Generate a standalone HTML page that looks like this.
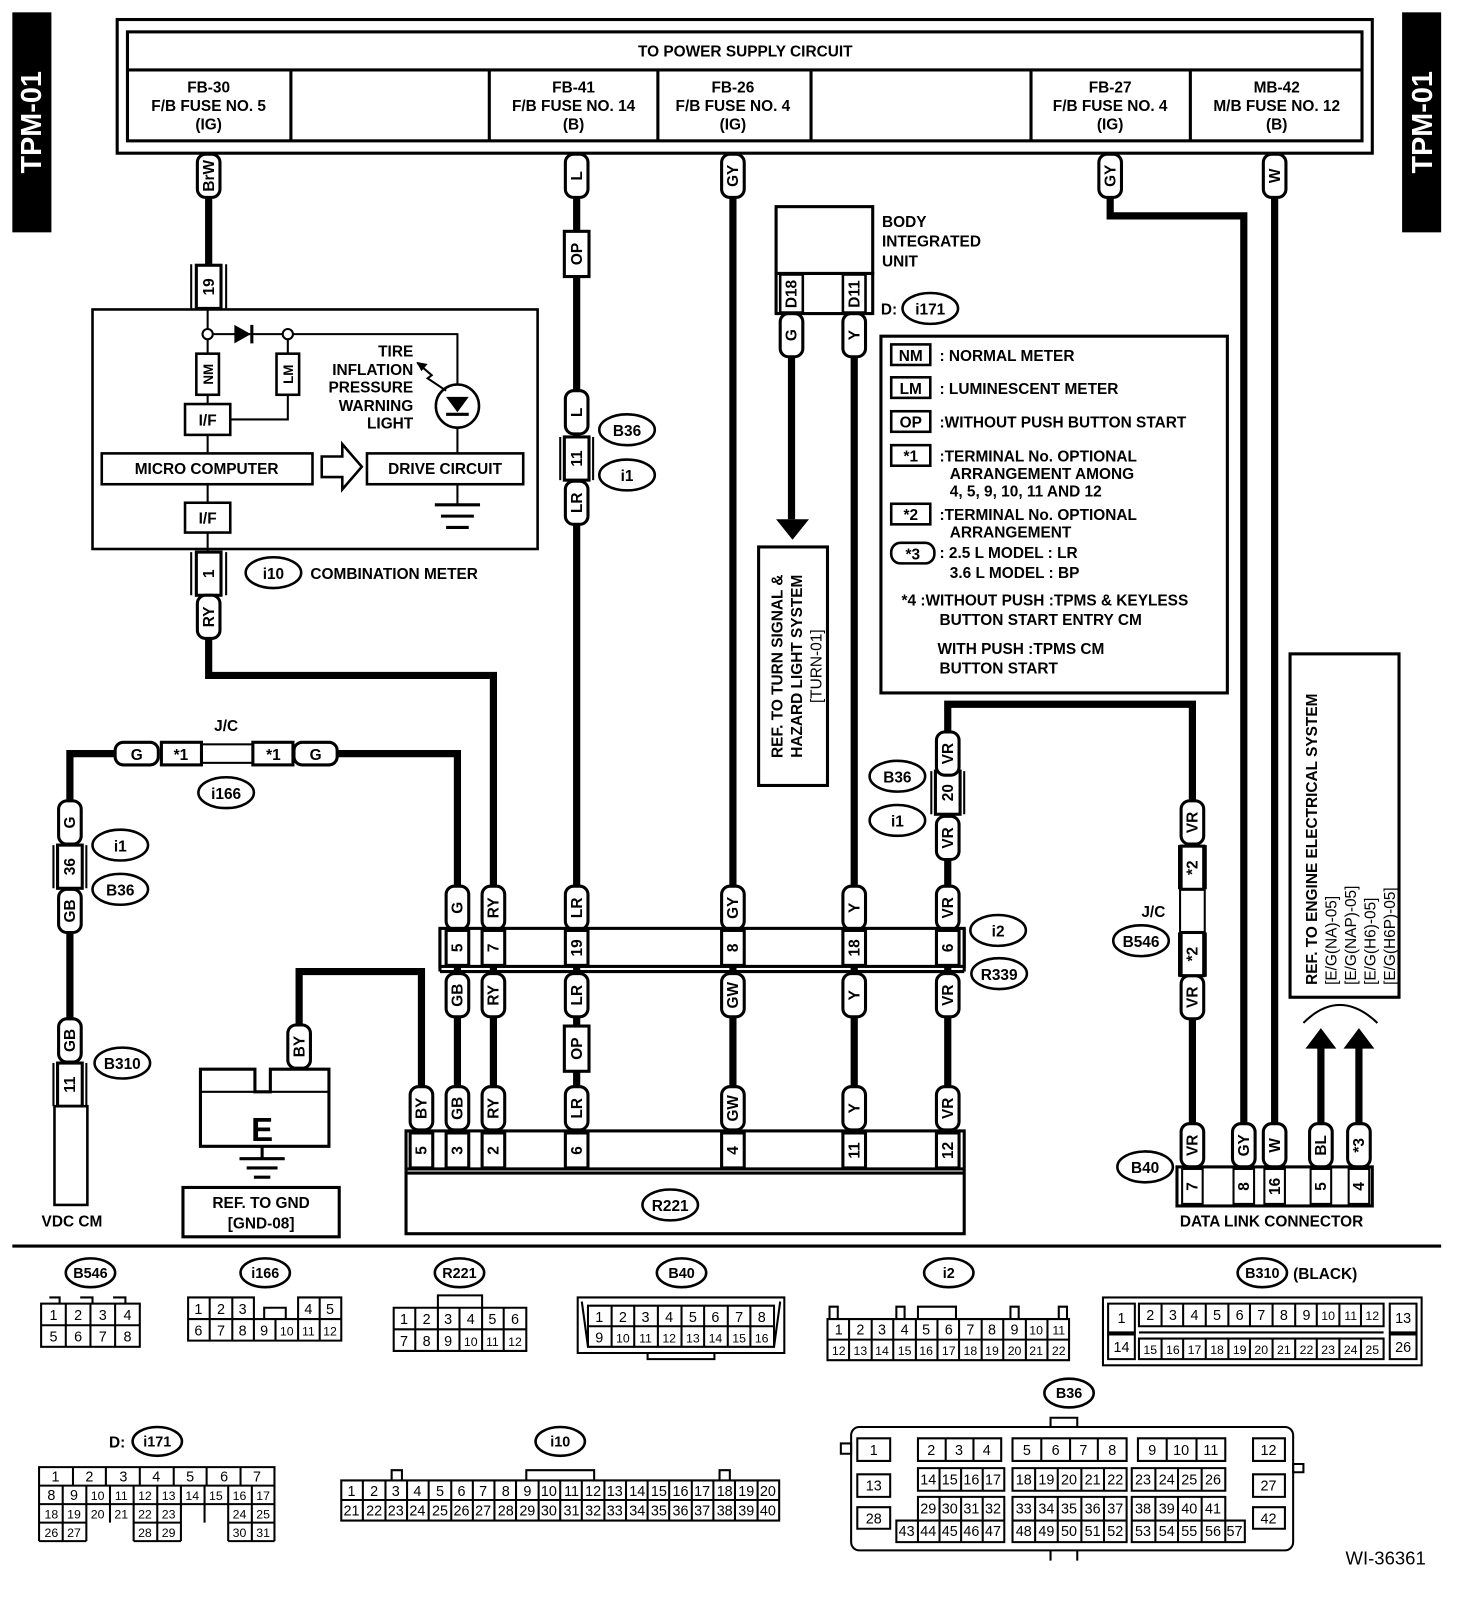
<!DOCTYPE html>
<html><head><meta charset="utf-8"><style>
html,body{margin:0;padding:0;background:#fff;}
svg{display:block;}
text{font-family:"Liberation Sans",sans-serif;font-weight:bold;font-size:15px;fill:#000;}
.n text,text.n{font-weight:normal;font-size:14px;}
.w{fill:none;stroke:#000;stroke-width:7;}
.b{fill:#fff;stroke:#000;stroke-width:3;}
.t{fill:none;stroke:#000;stroke-width:2;}
.bn{fill:none;stroke:#000;stroke-width:3;}
</style></head><body>
<svg width="1472" height="1610" viewBox="0 0 1432 1566" preserveAspectRatio="none" xmlns="http://www.w3.org/2000/svg">
<!-- tabs -->
<rect x="12" y="12" width="38" height="214" fill="#000"/>
<text transform="translate(40,119) rotate(-90)" text-anchor="middle" style="fill:#fff;font-size:28px">TPM-01</text>
<rect x="1364" y="12" width="38" height="214" fill="#000"/>
<text transform="translate(1393,119) rotate(-90)" text-anchor="middle" style="fill:#fff;font-size:28px">TPM-01</text>

<!-- power supply -->
<rect x="114" y="19" width="1221" height="130" class="bn"/>
<rect x="124" y="31" width="1201" height="106" class="bn"/>
<path d="M124 68H1325M283 68V137M476 68V137M640 68V137M789 68V137M1003 68V137M1158 68V137" class="bn"/>
<text x="725" y="55" text-anchor="middle">TO POWER SUPPLY CIRCUIT</text>
<g text-anchor="middle">
<text x="203" y="90">FB-30</text><text x="203" y="108">F/B FUSE NO. 5</text><text x="203" y="126">(IG)</text>
<text x="558" y="90">FB-41</text><text x="558" y="108">F/B FUSE NO. 14</text><text x="558" y="126">(B)</text>
<text x="713" y="90">FB-26</text><text x="713" y="108">F/B FUSE NO. 4</text><text x="713" y="126">(IG)</text>
<text x="1080" y="90">FB-27</text><text x="1080" y="108">F/B FUSE NO. 4</text><text x="1080" y="126">(IG)</text>
<text x="1242" y="90">MB-42</text><text x="1242" y="108">M/B FUSE NO. 12</text><text x="1242" y="126">(B)</text>
</g>

<!-- wires -->
<path class="w" d="M203 150V257"/>
<path class="w" d="M203 579V657H480V1100"/>
<path class="w" d="M561 150V1100"/>
<path class="w" d="M713 150V1100"/>
<path class="w" d="M831 305V1100"/>
<path class="w" d="M770 305V505"/>
<path class="w" d="M1080 150V210H1210V1095"/>
<path class="w" d="M1240 150V1095"/>
<path class="w" d="M922 1100V685H1160V1095"/>
<path class="w" d="M445 1100V733H328"/>
<path class="w" d="M112 733H68V1075"/>
<path class="w" d="M291 1040V945H410V1100"/>
<path class="w" d="M1285 1095V1018M1322 1095V1018"/>
<path d="M1270 1020L1285 1000L1300 1020ZM1307 1020L1322 1000L1337 1020Z" fill="#000"/>
<path d="M1268 995Q1303 960 1340 995" class="t"/>
<path d="M755 505H787L771 525Z" fill="#000"/>

<!-- combination meter -->
<rect x="90" y="301" width="433" height="233" class="t" style="stroke-width:2.5"/>
<path class="t" d="M202 300V344M202 384V393M202 423V441M202 471V489M202 518V537M206 325H276M285 325H445V374M445 416V441M280 330V344M280 384V408H224M445 471V491"/>
<circle cx="202" cy="325" r="5" class="b" style="stroke-width:2"/>
<circle cx="280" cy="325" r="5" class="b" style="stroke-width:2"/>
<path d="M228 316L244 325L228 334Z" fill="#000"/><path d="M245 316V334" class="bn"/>
<circle cx="445" cy="395" r="21" class="b" style="stroke-width:2.5"/>
<path d="M434 386H456L445 401Z" fill="#000"/><path d="M434 403H456" class="bn"/>
<path d="M406 353L420 365L416 368L434 380" class="t"/><path d="M405 352L416 354L410 361Z" fill="#000"/>
<rect x="191" y="344" width="22" height="40" class="b" style="stroke-width:2.5"/>
<text transform="translate(202,364) rotate(-90)" text-anchor="middle" dy="5" style="font-size:13px">NM</text>
<rect x="269" y="344" width="22" height="40" class="b" style="stroke-width:2.5"/>
<text transform="translate(280,364) rotate(-90)" text-anchor="middle" dy="5" style="font-size:13px">LM</text>
<rect x="180" y="393" width="44" height="30" class="b" style="stroke-width:2.5"/><text x="202" y="414" text-anchor="middle">I/F</text>
<rect x="180" y="489" width="44" height="29" class="b" style="stroke-width:2.5"/><text x="202" y="509" text-anchor="middle">I/F</text>
<rect x="99" y="441" width="205" height="30" class="b" style="stroke-width:2.5"/><text x="201" y="461" text-anchor="middle">MICRO COMPUTER</text>
<rect x="357" y="441" width="152" height="30" class="b" style="stroke-width:2.5"/><text x="433" y="461" text-anchor="middle">DRIVE CIRCUIT</text>
<path d="M313 444H333V432L352 454L333 476V464H313Z" class="b" style="stroke-width:2.5"/>
<path d="M423 491H467M429 502H461M434 513H456" class="bn"/>
<g text-anchor="end"><text x="402" y="347">TIRE</text><text x="402" y="365">INFLATION</text><text x="402" y="382">PRESSURE</text><text x="402" y="400">WARNING</text><text x="402" y="417">LIGHT</text></g>
<ellipse cx="266" cy="557" rx="27" ry="15" class="b" style="stroke-width:2.5"/><text x="266" y="563" text-anchor="middle">i10</text>
<text x="302" y="563">COMBINATION METER</text>

<!-- inline connectors -->
<g class="inl">
<path class="t" d="M186 257V300M220 257V300M186 537V579M220 537V579M545 425V467M577 425V467M52 822V864M84 822V864M52 1034V1076M84 1034V1076M906 750V792M938 750V792"/>
<rect x="191" y="258" width="24" height="42" class="b"/><text transform="translate(203,279) rotate(-90)" text-anchor="middle" dy="5">19</text>
<rect x="191" y="537" width="24" height="42" class="b"/><text transform="translate(203,558) rotate(-90)" text-anchor="middle" dy="5">1</text>
<rect x="549" y="425" width="24" height="42" class="b"/><text transform="translate(561,446) rotate(-90)" text-anchor="middle" dy="5">11</text>
<rect x="56" y="822" width="24" height="42" class="b"/><text transform="translate(68,843) rotate(-90)" text-anchor="middle" dy="5">36</text>
<rect x="56" y="1034" width="24" height="42" class="b"/><text transform="translate(68,1055) rotate(-90)" text-anchor="middle" dy="5">11</text>
<rect x="910" y="750" width="24" height="42" class="b"/><text transform="translate(922,771) rotate(-90)" text-anchor="middle" dy="5">20</text>
<rect x="549" y="998" width="24" height="44" class="b"/><text transform="translate(561,1020) rotate(-90)" text-anchor="middle" dy="5">OP</text>
<rect x="549" y="225" width="24" height="44" class="b"/><text transform="translate(561,247) rotate(-90)" text-anchor="middle" dy="5">OP</text>
</g>
<rect x="53" y="1076" width="32" height="96" class="b" style="stroke-width:2.5"/>
<text x="70" y="1193" text-anchor="middle">VDC CM</text>

<!-- pills -->
<g>
<rect x="192" y="150" width="22" height="42" rx="8" class="b"/><text transform="translate(203,171) rotate(-90)" text-anchor="middle" dy="5">BrW</text>
<rect x="192" y="579" width="22" height="42" rx="8" class="b"/><text transform="translate(203,600) rotate(-90)" text-anchor="middle" dy="5">RY</text>
<rect x="550" y="150" width="22" height="42" rx="8" class="b"/><text transform="translate(561,171) rotate(-90)" text-anchor="middle" dy="5">L</text>
<rect x="702" y="150" width="22" height="42" rx="8" class="b"/><text transform="translate(713,171) rotate(-90)" text-anchor="middle" dy="5">GY</text>
<rect x="1069" y="150" width="22" height="42" rx="8" class="b"/><text transform="translate(1080,171) rotate(-90)" text-anchor="middle" dy="5">GY</text>
<rect x="1229" y="150" width="22" height="42" rx="8" class="b"/><text transform="translate(1240,171) rotate(-90)" text-anchor="middle" dy="5">W</text>
<rect x="550" y="380" width="22" height="42" rx="8" class="b"/><text transform="translate(561,401) rotate(-90)" text-anchor="middle" dy="5">L</text>
<rect x="550" y="468" width="22" height="42" rx="8" class="b"/><text transform="translate(561,489) rotate(-90)" text-anchor="middle" dy="5">LR</text>
<rect x="759" y="305" width="22" height="42" rx="8" class="b"/><text transform="translate(770,326) rotate(-90)" text-anchor="middle" dy="5">G</text>
<rect x="820" y="305" width="22" height="42" rx="8" class="b"/><text transform="translate(831,326) rotate(-90)" text-anchor="middle" dy="5">Y</text>
<rect x="57" y="779" width="22" height="42" rx="8" class="b"/><text transform="translate(68,800) rotate(-90)" text-anchor="middle" dy="5">G</text>
<rect x="57" y="865" width="22" height="42" rx="8" class="b"/><text transform="translate(68,886) rotate(-90)" text-anchor="middle" dy="5">GB</text>
<rect x="57" y="991" width="22" height="42" rx="8" class="b"/><text transform="translate(68,1012) rotate(-90)" text-anchor="middle" dy="5">GB</text>
<rect x="911" y="712" width="22" height="42" rx="8" class="b"/><text transform="translate(922,733) rotate(-90)" text-anchor="middle" dy="5">VR</text>
<rect x="911" y="794" width="22" height="42" rx="8" class="b"/><text transform="translate(922,815) rotate(-90)" text-anchor="middle" dy="5">VR</text>
<rect x="280" y="997" width="22" height="42" rx="8" class="b"/><text transform="translate(291,1018) rotate(-90)" text-anchor="middle" dy="5">BY</text>
<!-- row 1 -->
<rect x="434" y="862" width="22" height="42" rx="8" class="b"/><text transform="translate(445,883) rotate(-90)" text-anchor="middle" dy="5">G</text>
<rect x="469" y="862" width="22" height="42" rx="8" class="b"/><text transform="translate(480,883) rotate(-90)" text-anchor="middle" dy="5">RY</text>
<rect x="550" y="862" width="22" height="42" rx="8" class="b"/><text transform="translate(561,883) rotate(-90)" text-anchor="middle" dy="5">LR</text>
<rect x="702" y="862" width="22" height="42" rx="8" class="b"/><text transform="translate(713,883) rotate(-90)" text-anchor="middle" dy="5">GY</text>
<rect x="820" y="862" width="22" height="42" rx="8" class="b"/><text transform="translate(831,883) rotate(-90)" text-anchor="middle" dy="5">Y</text>
<rect x="911" y="862" width="22" height="42" rx="8" class="b"/><text transform="translate(922,883) rotate(-90)" text-anchor="middle" dy="5">VR</text>
<!-- row 2 -->
<rect x="434" y="947" width="22" height="42" rx="8" class="b"/><text transform="translate(445,968) rotate(-90)" text-anchor="middle" dy="5">GB</text>
<rect x="469" y="947" width="22" height="42" rx="8" class="b"/><text transform="translate(480,968) rotate(-90)" text-anchor="middle" dy="5">RY</text>
<rect x="550" y="947" width="22" height="42" rx="8" class="b"/><text transform="translate(561,968) rotate(-90)" text-anchor="middle" dy="5">LR</text>
<rect x="702" y="947" width="22" height="42" rx="8" class="b"/><text transform="translate(713,968) rotate(-90)" text-anchor="middle" dy="5">GW</text>
<rect x="820" y="947" width="22" height="42" rx="8" class="b"/><text transform="translate(831,968) rotate(-90)" text-anchor="middle" dy="5">Y</text>
<rect x="911" y="947" width="22" height="42" rx="8" class="b"/><text transform="translate(922,968) rotate(-90)" text-anchor="middle" dy="5">VR</text>
<!-- row 3 -->
<rect x="399" y="1057" width="22" height="42" rx="8" class="b"/><text transform="translate(410,1078) rotate(-90)" text-anchor="middle" dy="5">BY</text>
<rect x="434" y="1057" width="22" height="42" rx="8" class="b"/><text transform="translate(445,1078) rotate(-90)" text-anchor="middle" dy="5">GB</text>
<rect x="469" y="1057" width="22" height="42" rx="8" class="b"/><text transform="translate(480,1078) rotate(-90)" text-anchor="middle" dy="5">RY</text>
<rect x="550" y="1057" width="22" height="42" rx="8" class="b"/><text transform="translate(561,1078) rotate(-90)" text-anchor="middle" dy="5">LR</text>
<rect x="702" y="1057" width="22" height="42" rx="8" class="b"/><text transform="translate(713,1078) rotate(-90)" text-anchor="middle" dy="5">GW</text>
<rect x="820" y="1057" width="22" height="42" rx="8" class="b"/><text transform="translate(831,1078) rotate(-90)" text-anchor="middle" dy="5">Y</text>
<rect x="911" y="1057" width="22" height="42" rx="8" class="b"/><text transform="translate(922,1078) rotate(-90)" text-anchor="middle" dy="5">VR</text>
<!-- right -->
<rect x="1149" y="779" width="22" height="42" rx="8" class="b"/><text transform="translate(1160,800) rotate(-90)" text-anchor="middle" dy="5">VR</text>
<rect x="1149" y="949" width="22" height="42" rx="8" class="b"/><text transform="translate(1160,970) rotate(-90)" text-anchor="middle" dy="5">VR</text>
<rect x="1149" y="1093" width="22" height="42" rx="8" class="b"/><text transform="translate(1160,1114) rotate(-90)" text-anchor="middle" dy="5">VR</text>
<rect x="1199" y="1093" width="22" height="42" rx="8" class="b"/><text transform="translate(1210,1114) rotate(-90)" text-anchor="middle" dy="5">GY</text>
<rect x="1229" y="1093" width="22" height="42" rx="8" class="b"/><text transform="translate(1240,1114) rotate(-90)" text-anchor="middle" dy="5">W</text>
<rect x="1274" y="1093" width="22" height="42" rx="8" class="b"/><text transform="translate(1285,1114) rotate(-90)" text-anchor="middle" dy="5">BL</text>
<rect x="1311" y="1093" width="22" height="42" rx="8" class="b"/><text transform="translate(1322,1114) rotate(-90)" text-anchor="middle" dy="5">*3</text>
</g>

<!-- J/C i166 -->
<text x="220" y="711" text-anchor="middle">J/C</text>
<rect x="196" y="724" width="50" height="18" class="b" style="stroke-width:2"/>
<rect x="112" y="722" width="42" height="22" rx="8" class="b"/><text x="133" y="739" text-anchor="middle">G</text>
<rect x="157" y="722" width="39" height="22" class="b"/><text x="176" y="739" text-anchor="middle">*1</text>
<rect x="246" y="722" width="39" height="22" class="b"/><text x="266" y="739" text-anchor="middle">*1</text>
<rect x="286" y="722" width="42" height="22" rx="8" class="b"/><text x="307" y="739" text-anchor="middle">G</text>
<ellipse cx="220" cy="771" rx="27" ry="15" class="b" style="stroke-width:2.5"/><text x="220" y="777" text-anchor="middle">i166</text>

<!-- ovals -->
<g>
<ellipse cx="117" cy="822" rx="27" ry="15" class="b" style="stroke-width:2.5"/><text x="117" y="828" text-anchor="middle">i1</text>
<ellipse cx="117" cy="865" rx="27" ry="15" class="b" style="stroke-width:2.5"/><text x="117" y="871" text-anchor="middle">B36</text>
<ellipse cx="119" cy="1034" rx="27" ry="15" class="b" style="stroke-width:2.5"/><text x="119" y="1040" text-anchor="middle">B310</text>
<ellipse cx="610" cy="418" rx="27" ry="15" class="b" style="stroke-width:2.5"/><text x="610" y="424" text-anchor="middle">B36</text>
<ellipse cx="610" cy="462" rx="27" ry="15" class="b" style="stroke-width:2.5"/><text x="610" y="468" text-anchor="middle">i1</text>
<ellipse cx="873" cy="755" rx="27" ry="15" class="b" style="stroke-width:2.5"/><text x="873" y="761" text-anchor="middle">B36</text>
<ellipse cx="873" cy="798" rx="27" ry="15" class="b" style="stroke-width:2.5"/><text x="873" y="804" text-anchor="middle">i1</text>
<ellipse cx="971" cy="905" rx="27" ry="15" class="b" style="stroke-width:2.5"/><text x="971" y="911" text-anchor="middle">i2</text>
<ellipse cx="972" cy="947" rx="27" ry="15" class="b" style="stroke-width:2.5"/><text x="972" y="953" text-anchor="middle">R339</text>
<ellipse cx="652" cy="1172" rx="27" ry="15" class="b" style="stroke-width:2.5"/><text x="652" y="1178" text-anchor="middle">R221</text>
<text x="694" y="1179" style="font-size:16px">*4</text>
<ellipse cx="1110" cy="915" rx="27" ry="15" class="b" style="stroke-width:2.5"/><text x="1110" y="921" text-anchor="middle">B546</text>
<text x="1122" y="892" text-anchor="middle">J/C</text>
<ellipse cx="1114" cy="1135" rx="27" ry="15" class="b" style="stroke-width:2.5"/><text x="1114" y="1141" text-anchor="middle">B40</text>
<ellipse cx="905" cy="300" rx="27" ry="15" class="b" style="stroke-width:2.5"/><text x="905" y="306" text-anchor="middle">i171</text>
<text x="857" y="306">D:</text>
</g>

<!-- right J/C B546 -->
<path class="t" d="M1147 822V865M1173 822V865M1147 907V950M1173 907V950"/>
<rect x="1148" y="865" width="24" height="42" class="b" style="stroke-width:2"/>
<rect x="1149" y="823" width="22" height="42" class="b"/><text transform="translate(1160,844) rotate(-90)" text-anchor="middle" dy="5">*2</text>
<rect x="1149" y="907" width="22" height="42" class="b"/><text transform="translate(1160,928) rotate(-90)" text-anchor="middle" dy="5">*2</text>

<!-- i2 row -->
<rect x="428" y="903" width="510" height="37" class="b"/>
<path class="bn" d="M428 945H938M428 903V945M938 903V945"/>
<g>
<rect x="434" y="905" width="22" height="34" class="b"/><text transform="translate(445,922) rotate(-90)" text-anchor="middle" dy="5">5</text>
<rect x="469" y="905" width="22" height="34" class="b"/><text transform="translate(480,922) rotate(-90)" text-anchor="middle" dy="5">7</text>
<rect x="550" y="905" width="22" height="34" class="b"/><text transform="translate(561,922) rotate(-90)" text-anchor="middle" dy="5">19</text>
<rect x="702" y="905" width="22" height="34" class="b"/><text transform="translate(713,922) rotate(-90)" text-anchor="middle" dy="5">8</text>
<rect x="820" y="905" width="22" height="34" class="b"/><text transform="translate(831,922) rotate(-90)" text-anchor="middle" dy="5">18</text>
<rect x="911" y="905" width="22" height="34" class="b"/><text transform="translate(922,922) rotate(-90)" text-anchor="middle" dy="5">6</text>
</g>

<!-- R221 -->
<rect x="395" y="1100" width="543" height="100" class="b"/>
<path class="bn" d="M395 1137H938M395 1141H938"/>
<g>
<rect x="399" y="1102" width="22" height="34" class="b"/><text transform="translate(410,1119) rotate(-90)" text-anchor="middle" dy="5">5</text>
<rect x="434" y="1102" width="22" height="34" class="b"/><text transform="translate(445,1119) rotate(-90)" text-anchor="middle" dy="5">3</text>
<rect x="469" y="1102" width="22" height="34" class="b"/><text transform="translate(480,1119) rotate(-90)" text-anchor="middle" dy="5">2</text>
<rect x="550" y="1102" width="22" height="34" class="b"/><text transform="translate(561,1119) rotate(-90)" text-anchor="middle" dy="5">6</text>
<rect x="702" y="1102" width="22" height="34" class="b"/><text transform="translate(713,1119) rotate(-90)" text-anchor="middle" dy="5">4</text>
<rect x="820" y="1102" width="22" height="34" class="b"/><text transform="translate(831,1119) rotate(-90)" text-anchor="middle" dy="5">11</text>
<rect x="911" y="1102" width="22" height="34" class="b"/><text transform="translate(922,1119) rotate(-90)" text-anchor="middle" dy="5">12</text>
</g>
<ellipse cx="652" cy="1172" rx="27" ry="15" class="b" style="stroke-width:2.5"/><text x="652" y="1178" text-anchor="middle">R221</text>

<!-- ground E -->
<path d="M195 1040H248V1062H263V1040H320V1115H195Z" class="b"/>
<path d="M195 1062H320" class="t"/>
<text x="255" y="1110" text-anchor="middle" style="font-size:32px">E</text>
<path d="M255 1115V1126M233 1127H277M240 1136H270M247 1145H263" class="bn"/>
<rect x="178" y="1155" width="152" height="48" class="b"/>
<text x="254" y="1175" text-anchor="middle">REF. TO GND</text><text x="254" y="1195" text-anchor="middle">[GND-08]</text>

<!-- BIU -->
<rect x="755" y="201" width="94" height="65" class="b"/>
<rect x="755" y="266" width="94" height="39" class="b"/>
<rect x="759" y="267" width="22" height="37" class="b" style="stroke-width:2.5"/><text transform="translate(770,286) rotate(-90)" text-anchor="middle" dy="5">D18</text>
<rect x="820" y="267" width="22" height="37" class="b" style="stroke-width:2.5"/><text transform="translate(831,286) rotate(-90)" text-anchor="middle" dy="5">D11</text>
<text x="858" y="221">BODY</text><text x="858" y="240">INTEGRATED</text><text x="858" y="259">UNIT</text>
<rect x="738" y="532" width="67" height="232" class="b"/>
<g text-anchor="middle"><text transform="translate(756,648) rotate(-90)" dy="5">REF. TO TURN SIGNAL &amp;</text><text transform="translate(775,648) rotate(-90)" dy="5">HAZARD LIGHT SYSTEM</text><text transform="translate(794,648) rotate(-90)" dy="5" style="font-weight:normal">[TURN-01]</text></g>

<!-- legend -->
<rect x="857" y="327" width="337" height="347" class="b"/>
<rect x="867" y="335" width="38" height="20" class="b" style="stroke-width:2.5"/><text x="886" y="351" text-anchor="middle">NM</text><text x="914" y="351">: NORMAL METER</text>
<rect x="867" y="367" width="38" height="20" class="b" style="stroke-width:2.5"/><text x="886" y="383" text-anchor="middle">LM</text><text x="914" y="383">: LUMINESCENT METER</text>
<rect x="867" y="400" width="38" height="20" class="b" style="stroke-width:2.5"/><text x="886" y="416" text-anchor="middle">OP</text><text x="914" y="416">:WITHOUT PUSH BUTTON START</text>
<rect x="867" y="433" width="38" height="20" class="b" style="stroke-width:2.5"/><text x="886" y="449" text-anchor="middle">*1</text><text x="914" y="449">:TERMINAL No. OPTIONAL</text>
<text x="924" y="466">ARRANGEMENT AMONG</text><text x="924" y="483">4, 5, 9, 10, 11 AND 12</text>
<rect x="867" y="490" width="38" height="20" class="b" style="stroke-width:2.5"/><text x="886" y="506" text-anchor="middle">*2</text><text x="914" y="506">:TERMINAL No. OPTIONAL</text>
<text x="924" y="523">ARRANGEMENT</text>
<rect x="867" y="528" width="42" height="20" rx="9" class="b" style="stroke-width:2.5"/><text x="888" y="544" text-anchor="middle">*3</text>
<text x="914" y="543">: 2.5 L MODEL  : LR</text><text x="924" y="562">3.6 L MODEL  : BP</text>
<text x="877" y="589">*4 :WITHOUT PUSH :TPMS &amp; KEYLESS</text>
<text x="914" y="608">BUTTON START   ENTRY CM</text>
<text x="912" y="636">WITH PUSH          :TPMS CM</text>
<text x="914" y="655">BUTTON START</text>

<!-- engine ref -->
<rect x="1255" y="636" width="106" height="334" class="b"/>
<g><text transform="translate(1276,958) rotate(-90)" dy="5">REF. TO ENGINE ELECTRICAL SYSTEM</text>
<text transform="translate(1295,958) rotate(-90)" dy="5" style="font-weight:normal">[E/G(NA)-05]</text>
<text transform="translate(1314,958) rotate(-90)" dy="5" style="font-weight:normal">[E/G(NAP)-05]</text>
<text transform="translate(1333,958) rotate(-90)" dy="5" style="font-weight:normal">[E/G(H6)-05]</text>
<text transform="translate(1352,958) rotate(-90)" dy="5" style="font-weight:normal">[E/G(H6P)-05]</text></g>

<!-- B40 data link -->
<rect x="1145" y="1135" width="190" height="38" class="b"/>
<g>
<rect x="1150" y="1137" width="20" height="34" class="b" style="stroke-width:2"/><text transform="translate(1160,1154) rotate(-90)" text-anchor="middle" dy="5">7</text>
<rect x="1200" y="1137" width="20" height="34" class="b" style="stroke-width:2"/><text transform="translate(1210,1154) rotate(-90)" text-anchor="middle" dy="5">8</text>
<rect x="1230" y="1137" width="20" height="34" class="b" style="stroke-width:2"/><text transform="translate(1240,1154) rotate(-90)" text-anchor="middle" dy="5">16</text>
<rect x="1275" y="1137" width="20" height="34" class="b" style="stroke-width:2"/><text transform="translate(1285,1154) rotate(-90)" text-anchor="middle" dy="5">5</text>
<rect x="1312" y="1137" width="20" height="34" class="b" style="stroke-width:2"/><text transform="translate(1322,1154) rotate(-90)" text-anchor="middle" dy="5">4</text>
</g>
<text x="1237" y="1193" text-anchor="middle">DATA LINK CONNECTOR</text>

<path d="M12 1212H1402" class="bn"/>

<!-- bottom connectors -->
<g class="n">
<ellipse cx="88" cy="1238" rx="24" ry="14" class="b" style="stroke-width:2.5"/><text x="88" y="1243" text-anchor="middle" style="font-weight:bold">B546</text>
<rect x="40" y="1268" width="96" height="42" class="b" style="stroke-width:2"/>
<path class="t" d="M40 1289H136M64 1268V1310M88 1268V1310M112 1268V1310M48 1262h10v6M78 1262h12v6M110 1262h12v6"/>
<text x="52" y="1284" text-anchor="middle">1</text><text x="76" y="1284" text-anchor="middle">2</text><text x="100" y="1284" text-anchor="middle">3</text><text x="124" y="1284" text-anchor="middle">4</text>
<text x="52" y="1305" text-anchor="middle">5</text><text x="76" y="1305" text-anchor="middle">6</text><text x="100" y="1305" text-anchor="middle">7</text><text x="124" y="1305" text-anchor="middle">8</text>

<ellipse cx="258" cy="1238" rx="24" ry="14" class="b" style="stroke-width:2.5"/><text x="258" y="1243" text-anchor="middle" style="font-weight:bold">i166</text>
<path class="t" d="M183 1262H247V1283H183ZM290 1262H332V1283H290ZM183 1283H332V1304H183ZM204 1262V1304M226 1262V1304M247 1283V1304M268 1283V1304M311 1262V1304M290 1283V1304M257 1283V1272H278V1283"/>
<text x="193" y="1278" text-anchor="middle">1</text><text x="215" y="1278" text-anchor="middle">2</text><text x="236" y="1278" text-anchor="middle">3</text><text x="300" y="1278" text-anchor="middle">4</text><text x="321" y="1278" text-anchor="middle">5</text>
<text x="193" y="1299" text-anchor="middle">6</text><text x="215" y="1299" text-anchor="middle">7</text><text x="236" y="1299" text-anchor="middle">8</text><text x="257" y="1299" text-anchor="middle">9</text><text x="279" y="1299" text-anchor="middle" style="font-size:12px">10</text><text x="300" y="1299" text-anchor="middle" style="font-size:12px">11</text><text x="321" y="1299" text-anchor="middle" style="font-size:12px">12</text>

<ellipse cx="447" cy="1238" rx="24" ry="14" class="b" style="stroke-width:2.5"/><text x="447" y="1243" text-anchor="middle" style="font-weight:bold">R221</text>
<path class="t" d="M383 1272H512V1314H383ZM383 1293H512M404 1272V1314M426 1272V1314M447 1272V1314M469 1272V1314M490 1272V1314M426 1272V1260H469V1272"/>
<text x="393" y="1288" text-anchor="middle">1</text><text x="415" y="1288" text-anchor="middle">2</text><text x="436" y="1288" text-anchor="middle">3</text><text x="458" y="1288" text-anchor="middle">4</text><text x="479" y="1288" text-anchor="middle">5</text><text x="501" y="1288" text-anchor="middle">6</text>
<text x="393" y="1309" text-anchor="middle">7</text><text x="415" y="1309" text-anchor="middle">8</text><text x="436" y="1309" text-anchor="middle">9</text><text x="458" y="1309" text-anchor="middle" style="font-size:12px">10</text><text x="479" y="1309" text-anchor="middle" style="font-size:12px">11</text><text x="501" y="1309" text-anchor="middle" style="font-size:12px">12</text>

<ellipse cx="663" cy="1238" rx="24" ry="14" class="b" style="stroke-width:2.5"/><text x="663" y="1243" text-anchor="middle" style="font-weight:bold">B40</text>
<path class="t" d="M562 1262H763V1316H562ZM566 1266L572 1310M759 1266L753 1310M630 1316V1322H695V1316M572 1270H753V1310H572ZM572 1290H753M595 1270V1310M617 1270V1310M640 1270V1310M663 1270V1310M685 1270V1310M708 1270V1310M730 1270V1310"/>
<text x="583" y="1286" text-anchor="middle">1</text><text x="606" y="1286" text-anchor="middle">2</text><text x="628" y="1286" text-anchor="middle">3</text><text x="651" y="1286" text-anchor="middle">4</text><text x="674" y="1286" text-anchor="middle">5</text><text x="696" y="1286" text-anchor="middle">6</text><text x="719" y="1286" text-anchor="middle">7</text><text x="741" y="1286" text-anchor="middle">8</text>
<text x="583" y="1306" text-anchor="middle">9</text><text x="606" y="1306" text-anchor="middle" style="font-size:12px">10</text><text x="628" y="1306" text-anchor="middle" style="font-size:12px">11</text><text x="651" y="1306" text-anchor="middle" style="font-size:12px">12</text><text x="674" y="1306" text-anchor="middle" style="font-size:12px">13</text><text x="696" y="1306" text-anchor="middle" style="font-size:12px">14</text><text x="719" y="1306" text-anchor="middle" style="font-size:12px">15</text><text x="741" y="1306" text-anchor="middle" style="font-size:12px">16</text>

<ellipse cx="923" cy="1238" rx="24" ry="14" class="b" style="stroke-width:2.5"/><text x="923" y="1243" text-anchor="middle" style="font-weight:bold">i2</text>
<path class="t" d="M805 1283H1040V1323H805ZM805 1303H1040M826 1283V1323M848 1283V1323M869 1283V1323M891 1283V1323M912 1283V1323M933 1283V1323M955 1283V1323M976 1283V1323M998 1283V1323M1019 1283V1323M807 1283V1271H815V1283M872 1283V1271H880V1283M893 1283V1271H930V1283M983 1283V1271H991V1283M1030 1283V1271H1038V1283"/>
<g style="font-size:13px" text-anchor="middle">
<text x="816" y="1298">1</text><text x="837" y="1298">2</text><text x="858" y="1298">3</text><text x="880" y="1298">4</text><text x="901" y="1298">5</text><text x="923" y="1298">6</text><text x="944" y="1298">7</text><text x="965" y="1298">8</text><text x="987" y="1298">9</text><text x="1008" y="1298" style="font-size:12px">10</text><text x="1030" y="1298" style="font-size:12px">11</text>
<text x="816" y="1318" style="font-size:12px">12</text><text x="837" y="1318" style="font-size:12px">13</text><text x="858" y="1318" style="font-size:12px">14</text><text x="880" y="1318" style="font-size:12px">15</text><text x="901" y="1318" style="font-size:12px">16</text><text x="923" y="1318" style="font-size:12px">17</text><text x="944" y="1318" style="font-size:12px">18</text><text x="965" y="1318" style="font-size:12px">19</text><text x="987" y="1318" style="font-size:12px">20</text><text x="1008" y="1318" style="font-size:12px">21</text><text x="1030" y="1318" style="font-size:12px">22</text>
</g>

<ellipse cx="1228" cy="1238" rx="24" ry="14" class="b" style="stroke-width:2.5"/><text x="1228" y="1243" text-anchor="middle" style="font-weight:bold">B310</text>
<text x="1258" y="1244" style="font-weight:bold;font-size:15px">(BLACK)</text>
<rect x="1073" y="1262" width="310" height="66" class="b" style="stroke-width:2"/>
<path class="t" d="M1078 1268H1104V1296H1078ZM1078 1298H1104V1322H1078ZM1352 1268H1378V1296H1352ZM1352 1298H1378V1322H1352ZM1108 1268H1346V1290H1108ZM1108 1302H1346V1322H1108ZM1130 1268V1290M1151 1268V1290M1173 1268V1290M1195 1268V1290M1216 1268V1290M1238 1268V1290M1260 1268V1290M1281 1268V1290M1303 1268V1290M1324 1268V1290M1130 1302V1322M1151 1302V1322M1173 1302V1322M1195 1302V1322M1216 1302V1322M1238 1302V1322M1260 1302V1322M1281 1302V1322M1303 1302V1322M1324 1302V1322M1108 1296H1346"/>
<g style="font-size:13px" text-anchor="middle">
<text x="1091" y="1287">1</text><text x="1091" y="1315">14</text><text x="1365" y="1287">13</text><text x="1365" y="1315">26</text>
<text x="1119" y="1284">2</text><text x="1141" y="1284">3</text><text x="1162" y="1284">4</text><text x="1184" y="1284">5</text><text x="1206" y="1284">6</text><text x="1227" y="1284">7</text><text x="1249" y="1284">8</text><text x="1271" y="1284">9</text><text x="1292" y="1284" style="font-size:12px">10</text><text x="1314" y="1284" style="font-size:12px">11</text><text x="1335" y="1284" style="font-size:12px">12</text>
<text x="1119" y="1317" style="font-size:12px">15</text><text x="1141" y="1317" style="font-size:12px">16</text><text x="1162" y="1317" style="font-size:12px">17</text><text x="1184" y="1317" style="font-size:12px">18</text><text x="1206" y="1317" style="font-size:12px">19</text><text x="1227" y="1317" style="font-size:12px">20</text><text x="1249" y="1317" style="font-size:12px">21</text><text x="1271" y="1317" style="font-size:12px">22</text><text x="1292" y="1317" style="font-size:12px">23</text><text x="1314" y="1317" style="font-size:12px">24</text><text x="1335" y="1317" style="font-size:12px">25</text>
</g>

<!-- D:i171 -->
<text x="106" y="1408" style="font-weight:bold;font-size:15px">D:</text>
<ellipse cx="153" cy="1402" rx="24" ry="14" class="b" style="stroke-width:2.5"/><text x="153" y="1407" text-anchor="middle" style="font-weight:bold">i171</text>
<path class="t" d="M38 1427H267V1463H38ZM38 1445H267M71 1427V1445M103 1427V1445M136 1427V1445M169 1427V1445M201 1427V1445M234 1427V1445M61 1445V1499M84 1445V1499M107 1445V1481M130 1445V1499M153 1445V1499M176 1445V1499M199 1445V1481M222 1445V1499M245 1445V1499M267 1463V1499M38 1463V1499M38 1481H84M130 1481H176M222 1481H267M38 1499H84M130 1499H176M222 1499H267M130 1463H176"/>
<g style="font-size:13px" text-anchor="middle">
<text x="54" y="1441">1</text><text x="87" y="1441">2</text><text x="120" y="1441">3</text><text x="152" y="1441">4</text><text x="185" y="1441">5</text><text x="218" y="1441">6</text><text x="250" y="1441">7</text>
<text x="50" y="1459">8</text><text x="72" y="1459">9</text><text x="95" y="1459" style="font-size:12px">10</text><text x="118" y="1459" style="font-size:12px">11</text><text x="141" y="1459" style="font-size:12px">12</text><text x="164" y="1459" style="font-size:12px">13</text><text x="187" y="1459" style="font-size:12px">14</text><text x="210" y="1459" style="font-size:12px">15</text><text x="233" y="1459" style="font-size:12px">16</text><text x="256" y="1459" style="font-size:12px">17</text>
<text x="50" y="1477" style="font-size:12px">18</text><text x="72" y="1477" style="font-size:12px">19</text><text x="95" y="1477" style="font-size:12px">20</text><text x="118" y="1477" style="font-size:12px">21</text><text x="141" y="1477" style="font-size:12px">22</text><text x="164" y="1477" style="font-size:12px">23</text><text x="233" y="1477" style="font-size:12px">24</text><text x="256" y="1477" style="font-size:12px">25</text>
<text x="50" y="1495" style="font-size:12px">26</text><text x="72" y="1495" style="font-size:12px">27</text><text x="141" y="1495" style="font-size:12px">28</text><text x="164" y="1495" style="font-size:12px">29</text><text x="233" y="1495" style="font-size:12px">30</text><text x="256" y="1495" style="font-size:12px">31</text>
</g>

<!-- i10 -->
<ellipse cx="545" cy="1402" rx="24" ry="14" class="b" style="stroke-width:2.5"/><text x="545" y="1407" text-anchor="middle" style="font-weight:bold">i10</text>
<path class="t" d="M332 1440H758V1479H332ZM332 1459H758M353 1440V1479M375 1440V1479M396 1440V1479M417 1440V1479M439 1440V1479M460 1440V1479M481 1440V1479M502 1440V1479M524 1440V1479M545 1440V1479M566 1440V1479M588 1440V1479M609 1440V1479M630 1440V1479M651 1440V1479M673 1440V1479M694 1440V1479M715 1440V1479M737 1440V1479M381 1440V1430H391V1440M512 1440V1430H578V1440M700 1440V1430H710V1440"/>
<g style="font-size:13px" text-anchor="middle">
<text x="342" y="1455">1</text><text x="364" y="1455">2</text><text x="385" y="1455">3</text><text x="406" y="1455">4</text><text x="428" y="1455">5</text><text x="449" y="1455">6</text><text x="470" y="1455">7</text><text x="492" y="1455">8</text><text x="513" y="1455">9</text>
<g style="font-size:12px"><text x="534" y="1455">10</text><text x="556" y="1455">11</text><text x="577" y="1455">12</text><text x="598" y="1455">13</text><text x="620" y="1455">14</text><text x="641" y="1455">15</text><text x="662" y="1455">16</text><text x="683" y="1455">17</text><text x="705" y="1455">18</text><text x="726" y="1455">19</text><text x="747" y="1455">20</text>
<text x="342" y="1474">21</text><text x="364" y="1474">22</text><text x="385" y="1474">23</text><text x="406" y="1474">24</text><text x="428" y="1474">25</text><text x="449" y="1474">26</text><text x="470" y="1474">27</text><text x="492" y="1474">28</text><text x="513" y="1474">29</text><text x="534" y="1474">30</text><text x="556" y="1474">31</text><text x="577" y="1474">32</text><text x="598" y="1474">33</text><text x="620" y="1474">34</text><text x="641" y="1474">35</text><text x="662" y="1474">36</text><text x="683" y="1474">37</text><text x="705" y="1474">38</text><text x="726" y="1474">39</text><text x="747" y="1474">40</text></g>
</g>

<!-- B36 -->
<ellipse cx="1040" cy="1355" rx="24" ry="14" class="b" style="stroke-width:2.5"/><text x="1040" y="1360" text-anchor="middle" style="font-weight:bold">B36</text>
<rect x="828" y="1388" width="430" height="120" rx="8" class="b" style="stroke-width:2"/>
<path class="t" d="M1022 1388V1379H1048V1388M818 1404H828V1414H818ZM1258 1424H1268V1432H1258ZM1022 1508V1518M1048 1508V1518"/>
<path class="t" d="M834 1399H866V1421H834ZM834 1434H866V1456H834ZM834 1466H866V1487H834ZM1219 1399H1250V1421H1219ZM1219 1434H1250V1456H1219ZM1219 1466H1250V1487H1219Z"/>
<path class="t" d="M893 1399H974V1421H893ZM920 1399V1421M947 1399V1421M985 1399H1096V1421H985ZM1013 1399V1421M1041 1399V1421M1068 1399V1421M1107 1399H1192V1421H1107ZM1135 1399V1421M1164 1399V1421"/>
<path class="t" d="M893 1428H977V1450H893ZM914 1428V1450M935 1428V1450M956 1428V1450M985 1428H1096V1450H985ZM1007 1428V1450M1029 1428V1450M1052 1428V1450M1074 1428V1450M1101 1428H1192V1450H1101ZM1124 1428V1450M1146 1428V1450M1169 1428V1450"/>
<path class="t" d="M893 1456H977V1500H872V1479H893ZM872 1479H977M893 1479V1500M914 1456V1500M935 1456V1500M956 1456V1500M985 1456H1096V1500H985ZM985 1479H1096M1007 1456V1500M1029 1456V1500M1052 1456V1500M1074 1456V1500M1101 1456H1192V1479H1211V1500H1101ZM1101 1479H1192M1124 1456V1500M1146 1456V1500M1169 1456V1500M1192 1479V1500"/>
<g style="font-size:13px" text-anchor="middle">
<text x="850" y="1415">1</text><text x="850" y="1450">13</text><text x="850" y="1482">28</text><text x="1234" y="1415">12</text><text x="1234" y="1450">27</text><text x="1234" y="1482">42</text>
<text x="906" y="1415">2</text><text x="933" y="1415">3</text><text x="960" y="1415">4</text><text x="999" y="1415">5</text><text x="1027" y="1415">6</text><text x="1054" y="1415">7</text><text x="1082" y="1415">8</text><text x="1121" y="1415">9</text><text x="1149" y="1415">10</text><text x="1178" y="1415">11</text>
<g style="font-size:12px">
<text x="903" y="1444">14</text><text x="924" y="1444">15</text><text x="945" y="1444">16</text><text x="966" y="1444">17</text><text x="996" y="1444">18</text><text x="1018" y="1444">19</text><text x="1040" y="1444">20</text><text x="1063" y="1444">21</text><text x="1085" y="1444">22</text><text x="1112" y="1444">23</text><text x="1135" y="1444">24</text><text x="1157" y="1444">25</text><text x="1180" y="1444">26</text>
<text x="903" y="1472">29</text><text x="924" y="1472">30</text><text x="945" y="1472">31</text><text x="966" y="1472">32</text><text x="996" y="1472">33</text><text x="1018" y="1472">34</text><text x="1040" y="1472">35</text><text x="1063" y="1472">36</text><text x="1085" y="1472">37</text><text x="1112" y="1472">38</text><text x="1135" y="1472">39</text><text x="1157" y="1472">40</text><text x="1180" y="1472">41</text>
<text x="882" y="1494">43</text><text x="903" y="1494">44</text><text x="924" y="1494">45</text><text x="945" y="1494">46</text><text x="966" y="1494">47</text><text x="996" y="1494">48</text><text x="1018" y="1494">49</text><text x="1040" y="1494">50</text><text x="1063" y="1494">51</text><text x="1085" y="1494">52</text><text x="1112" y="1494">53</text><text x="1135" y="1494">54</text><text x="1157" y="1494">55</text><text x="1180" y="1494">56</text><text x="1201" y="1494">57</text>
</g></g>
</g>
<text x="1348" y="1522" text-anchor="middle" style="font-weight:normal;font-size:18px">WI-36361</text>
</svg>
</body></html>
